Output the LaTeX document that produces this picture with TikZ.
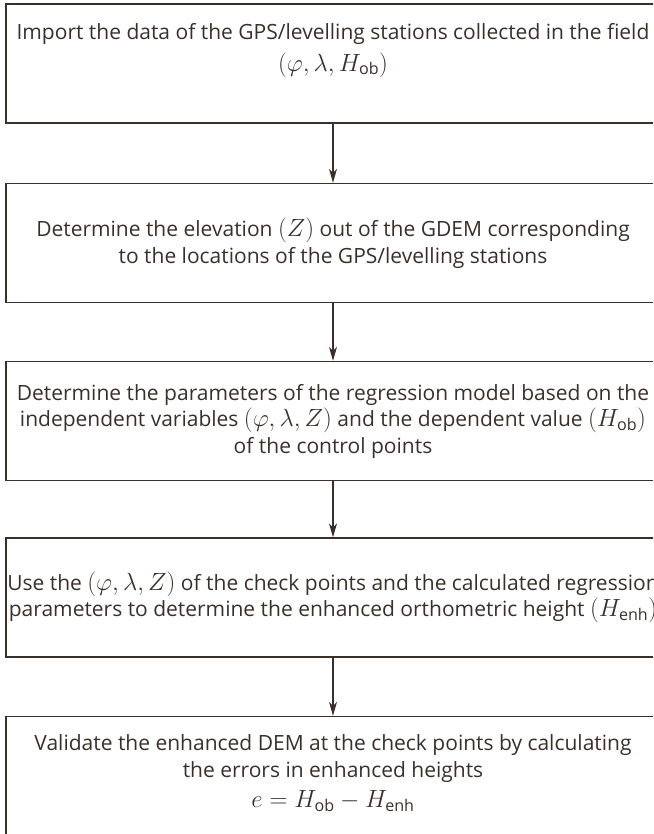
\documentclass[tikz,border=0pt]{standalone}
\usepackage{amsmath}
\usepackage{fontspec}
\setmainfont{Open Sans}
\usepackage{xcolor}
\usepackage{tikz}
\usetikzlibrary{arrows.meta,positioning}
\definecolor{flowInk}{RGB}{58,48,42}
\newcommand{\mth}[1]{{\fontsize{23}{26}\selectfont$#1$}}

\begin{document}
\begin{tikzpicture}[
  x=1pt,y=-1pt,
  font=\fontsize{21}{26.5}\selectfont,
  stepbox/.style={draw=flowInk,line width=1.4pt,minimum width=654pt,minimum height=119pt,
    inner sep=0pt,text=flowInk,align=center},
  steptext/.style={inner sep=0pt,text=flowInk,align=center},
  flow/.style={-{Stealth[length=14pt,width=8pt,inset=4pt]},flowInk,line width=1.2pt},
]
\useasboundingbox (0,0) rectangle (653,834);
\clip (0,0) rectangle (653,834);

% step boxes
\node[stepbox] (s1) at (333,63.5) {};
\node[steptext,below=20pt of s1.north] (t1)
  {Import the data of the GPS/levelling stations collected in the field\\[5pt]
   \mth{(\varphi,\lambda,H_{\mathrm{ob}})}};
\node[stepbox] (s2) at (333,243)
  {Determine the elevation \mth{(Z)} out of the GDEM corresponding\\
   to the locations of the GPS/levelling stations};
\node[stepbox] (s3) at (333,421)
  {Determine the parameters of the regression model based on the\\
   independent variables \mth{(\varphi,\lambda,Z)} and the dependent value \mth{(H_{\mathrm{ob}})}\\
   of the control points};
\node[stepbox] (s4) at (333,597.5)
  {Use the \mth{(\varphi,\lambda,Z)} of the check points and the calculated regression\\
   parameters to determine the enhanced orthometric height \mth{(H_{\mathrm{enh}})}};
\node[stepbox] (s5) at (333,776) {};
\node[steptext,below=19pt of s5.north] (t5)
  {Validate the enhanced DEM at the check points by calculating\\
   the errors in enhanced heights\\[4pt]
   \mth{e=H_{\mathrm{ob}}-H_{\mathrm{enh}}}};

% arrows between steps
\foreach \a/\b in {s1/s2,s2/s3,s3/s4,s4/s5}
  \draw[flow] (\a.south) -- (\b.north);
\end{tikzpicture}
\end{document}
